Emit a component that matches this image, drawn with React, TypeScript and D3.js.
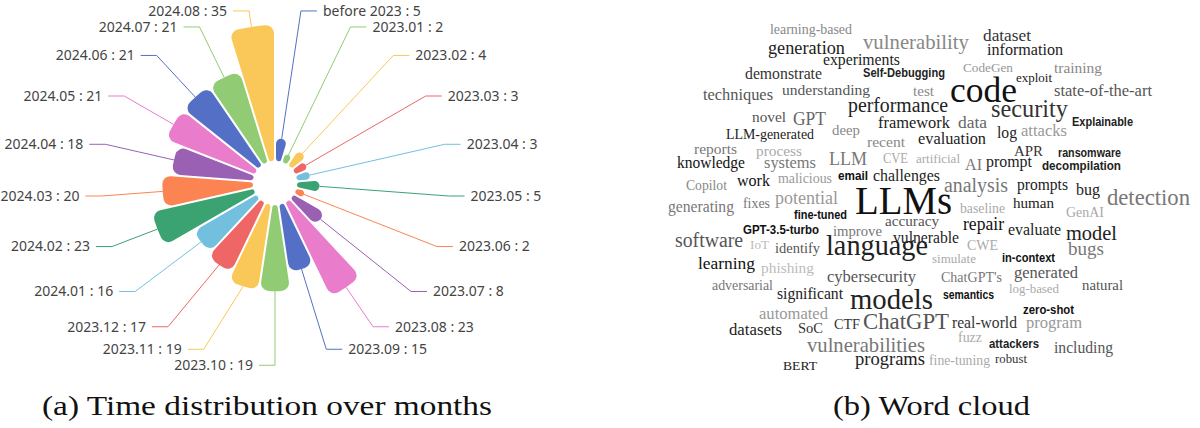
import * as d3 from "d3";

// ---- panel (a): papers per month ----
const monthLabels = [
  "before 2023", "2023.01", "2023.02", "2023.03", "2023.04", "2023.05", "2023.06",
  "2023.07", "2023.08", "2023.09", "2023.10", "2023.11", "2023.12", "2024.01",
  "2024.02", "2024.03", "2024.04", "2024.05", "2024.06", "2024.07", "2024.08",
];
const paperCounts = [5, 2, 4, 3, 3, 5, 2, 8, 23, 15, 19, 19, 17, 16, 23, 20, 18, 21, 21, 21, 35];

const palette = ["#5470c6", "#91cc75", "#fac858", "#ee6666", "#73c0de", "#3ba272", "#fc8452", "#9a60b4", "#ea7ccc"];

// ---- panel (b): word cloud ----
const cloudWords = [
  "learning-based", "generation", "vulnerability", "dataset", "information", "experiments",
  "demonstrate", "Self-Debugging", "CodeGen", "training", "exploit", "techniques",
  "understanding", "test", "code", "state-of-the-art", "performance", "security", "novel",
  "GPT", "framework", "data", "log", "attacks", "Explainable", "LLM-generated", "deep",
  "recent", "evaluation", "reports", "process", "systems", "LLM", "CVE", "artificial", "APR",
  "ransomware", "knowledge", "AI", "prompt", "decompilation", "Copilot", "work", "malicious",
  "email", "challenges", "analysis", "prompts", "bug", "detection", "generating", "fixes",
  "potential", "LLMs", "baseline", "human", "GenAI", "fine-tuned", "accuracy", "GPT-3.5-turbo",
  "improve", "vulnerable", "repair", "evaluate", "model", "software", "IoT", "identify",
  "language", "CWE", "bugs", "learning", "phishing", "simulate", "in-context", "cybersecurity",
  "ChatGPT's", "generated", "natural", "adversarial", "significant", "models", "semantics",
  "log-based", "automated", "zero-shot", "datasets", "SoC", "CTF", "ChatGPT", "real-world",
  "program", "vulnerabilities", "fuzz", "attackers", "including", "BERT", "programs",
  "fine-tuning", "robust",
];
// font size stands for word frequency
const cloudSizes = [
  14, 18, 21, 17, 16, 16,
  16, 13, 13.5, 15.5, 13.5, 16.5,
  15.5, 14.5, 36, 16.5, 20.5, 25, 15.5,
  19, 16.5, 17.5, 16, 16.5, 13.5, 14, 15,
  15.5, 17, 15.5, 15.5, 16.5, 19, 14, 13.5, 15,
  13.5, 16, 16, 16, 14, 14, 17, 14,
  14, 16.5, 20, 16, 16.5, 22.5, 16, 14,
  18, 40, 14, 15.5, 14, 13.5, 15.5, 13.5,
  15, 16, 18, 16, 20.5, 20, 13.5, 15,
  29, 14, 19, 17.5, 15.5, 13.5, 13.5, 16.5,
  14, 16.5, 15, 14, 16, 29, 13,
  13, 16.5, 14, 17, 14.5, 14.5, 23, 16,
  16.5, 21, 14, 14, 16, 13.5, 18.5,
  14, 13.5,
];

// placement of the cloud as it came out: left x, baseline y, width (panel coordinates)
const cloudLayout: [number, number, number][] = [
  [110, 34, 82], [108, 54, 77], [203, 49, 106], [323, 41, 48], [327, 55, 76], [163, 65, 77],
  [85, 79, 77], [203, 77, 82], [303, 72, 50], [394, 73, 48], [356, 82, 36], [43, 100, 70],
  [122, 95, 88], [253, 96, 21], [290, 102, 67], [394, 96, 98], [188, 112, 100], [331, 117, 77], [92, 122, 34],
  [133, 125, 33], [218, 128, 72], [298, 128, 29], [337, 138, 20], [361, 136, 46], [412, 126, 61], [66, 139, 88], [172, 135, 28],
  [207, 147, 38], [258, 144, 68], [34, 154, 43], [96, 156, 46], [104, 168, 52], [169, 165, 38], [223, 163, 25], [256, 163, 44], [354, 156, 29],
  [398, 157, 63], [17, 168, 68], [305, 170, 17], [326, 167, 46], [382, 170, 79], [26, 190, 41], [77, 186, 33], [118, 183, 54],
  [178, 180, 30], [213, 181, 67], [284, 192, 64], [357, 190, 51], [416, 195, 24], [447, 205, 83], [8, 212, 66], [83, 208, 27],
  [115, 204, 63], [195, 214, 97], [300, 213, 45], [353, 208, 41], [406, 217, 38], [134, 219, 53], [225, 226, 54], [83, 234, 76],
  [173, 236, 49], [233, 243, 66], [303, 230, 41], [348, 235, 53], [406, 240, 51], [15, 247, 68], [90, 249, 19], [115, 253, 45],
  [166, 255, 102], [307, 250, 31], [408, 255, 36], [38, 269, 57], [101, 273, 53], [272, 263, 44], [342, 262, 53], [167, 282, 89],
  [281, 282, 61], [354, 278, 64], [422, 290, 41], [52, 290, 61], [117, 299, 66], [190, 309, 83], [283, 299, 51],
  [349, 293, 50], [99, 319, 69], [363, 314, 51], [69, 335, 53], [138, 333, 25], [174, 329, 26], [203, 329, 86], [292, 328, 65],
  [366, 328, 56], [147, 352, 118], [298, 342, 24], [329, 348, 50], [394, 353, 59], [123, 370, 34], [195, 365, 70],
  [269, 365, 61], [335, 363, 32],
];
const cloudShades = [
  "#888", "#222", "#888", "#333", "#222", "#222",
  "#333", "#222", "#999", "#888", "#222", "#555",
  "#555", "#888", "#111", "#555", "#222", "#333", "#555",
  "#666", "#222", "#666", "#222", "#999", "#222", "#222", "#888",
  "#888", "#222", "#777", "#aaa", "#777", "#777", "#aaa", "#aaa", "#333",
  "#222", "#111", "#777", "#222", "#222", "#888", "#111", "#999",
  "#111", "#222", "#777", "#222", "#222", "#777", "#777", "#777",
  "#999", "#111", "#aaa", "#222", "#aaa", "#111", "#555", "#111",
  "#777", "#222", "#111", "#222", "#222", "#555", "#bbb", "#555",
  "#222", "#aaa", "#777", "#111", "#bbb", "#aaa", "#111", "#555",
  "#777", "#555", "#555", "#777", "#222", "#222", "#111",
  "#aaa", "#999", "#111", "#222", "#333", "#333", "#555", "#333",
  "#999", "#777", "#aaa", "#222", "#555", "#222", "#222",
  "#aaa", "#333",
];
const cloudBold = new Set([
  "Self-Debugging", "Explainable", "ransomware", "decompilation", "email", "fine-tuned",
  "GPT-3.5-turbo", "in-context", "semantics", "zero-shot", "attackers",
]);

const SERIF = "'Liberation Serif', 'Times New Roman', Tinos, Times, serif";
const NARROW = "'Liberation Sans Narrow', 'Arial Narrow', 'Liberation Sans', sans-serif";

const W = 1200, H = 428;
const CX = 275, CY = 183;
const R_INNER = 22, R_OUTER = 158, R_LABEL = 174;

interface Slice { i: number; value: number; start: number; end: number; }
interface Lbl { i: number; mid: number; x: number; y: number; left: boolean; moved: boolean; }

function RoseChart() {
  const n = paperCounts.length;
  const step = (2 * Math.PI) / n;
  // outer ring is capped, the biggest month runs into it
  const r = d3.scaleLinear().domain([0, 30]).range([R_INNER, R_OUTER]).clamp(true);

  const slices: Slice[] = paperCounts.map((value, i) => ({ i, value, start: i * step, end: (i + 1) * step }));
  const arc = d3.arc<Slice>()
    .innerRadius(R_INNER)
    .outerRadius((d) => r(d.value))
    .startAngle((d) => d.start)
    .endAngle((d) => d.end)
    .padAngle(0.02)
    .padRadius(100)
    .cornerRadius(8);

  // label positions, then push apart the ones that collide
  const labels: Lbl[] = paperCounts.map((_, i) => {
    const mid = (i + 0.5) * step;
    return { i, mid, x: R_LABEL * Math.sin(mid), y: -R_LABEL * Math.cos(mid), left: mid > Math.PI - 1e-6, moved: false };
  });
  const GAP = 16;
  [true, false].forEach((side) => {
    const group = labels.filter((l) => l.left === side).sort((a, b) => a.y - b.y);
    for (let k = 1; k < group.length; k++) {
      if (group[k].y - group[k - 1].y < GAP) {
        group[k].y = group[k - 1].y + GAP;
        group[k].moved = true;
      }
    }
    const lower = group.filter((l) => l.y > 0);
    if (lower.some((l) => l.moved)) {
      const ry = d3.max(lower, (l) => l.y)!;
      lower.forEach((l) => {
        const t = Math.sqrt(Math.max(0, 1 - (l.y / ry) ** 2));
        l.x = (side ? -1 : 1) * R_LABEL * t;
      });
    }
  });

  return (
    <g transform={`translate(${CX},${CY})`}>
      {slices.map((s) => (
        <path key={s.i} d={arc(s) || ""} fill={palette[s.i % palette.length]} />
      ))}
      {labels.map((l) => {
        const v = paperCounts[l.i];
        const rv = r(v);
        const dir = l.left ? -1 : 1;
        const color = palette[l.i % palette.length];
        return (
          <g key={l.i}>
            <path
              d={`M${rv * Math.sin(l.mid)},${-rv * Math.cos(l.mid)}L${l.x},${l.y}L${l.x + dir * 16},${l.y}`}
              fill="none"
              stroke={color}
              strokeWidth={1}
            />
            <text
              x={l.x + dir * 22}
              y={l.y}
              dy="0.35em"
              textAnchor={l.left ? "end" : "start"}
              fontFamily="'Noto Sans', sans-serif"
              fontSize={14}
              fill="#444"
            >
              {`${monthLabels[l.i]} : ${v}`}
            </text>
          </g>
        );
      })}
    </g>
  );
}

function WordCloud() {
  return (
    <g transform="translate(660,0)">
      {cloudWords.map((w, i) => {
        const [x, y, len] = cloudLayout[i];
        const bold = cloudBold.has(w);
        return (
          <text
            key={w}
            x={x}
            y={y}
            fontSize={bold ? cloudSizes[i] - 0.5 : cloudSizes[i]}
            fill={cloudShades[i]}
            style={{ fontFamily: bold ? NARROW : SERIF, fontWeight: bold ? 600 : 400 }}
            textLength={len}
            lengthAdjust="spacingAndGlyphs"
          >
            {w}
          </text>
        );
      })}
    </g>
  );
}

export default function App() {
  return (
    <svg
      width={W}
      height={H}
      viewBox={`0 0 ${W} ${H}`}
      style={{ position: "absolute", left: 0, top: 0, background: "#fff" }}
    >
      <RoseChart />
      <WordCloud />
      <g style={{ fontFamily: SERIF }} fontSize={27} fill="#111">
        <text x={42} y={415} textLength={450} lengthAdjust="spacingAndGlyphs">(a) Time distribution over months</text>
        <text x={833} y={415} textLength={197} lengthAdjust="spacingAndGlyphs">(b) Word cloud</text>
      </g>
    </svg>
  );
}
